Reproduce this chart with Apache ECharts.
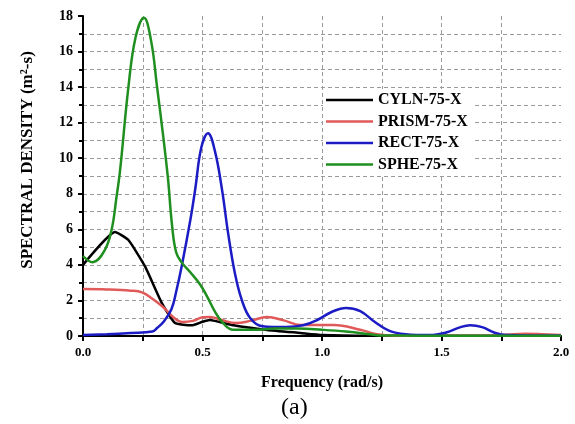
<!DOCTYPE html>
<html>
<head>
<meta charset="utf-8">
<script src="https://cdn.jsdelivr.net/npm/echarts@6/dist/echarts.min.js"></script>
<style>
  html, body { margin: 0; padding: 0; background: #fff; }
  #chart { width: 575px; height: 424px; }
</style>
</head>
<body>
<div id="chart"></div>
<script>
  // spectral density curves, [frequency, density]
  var seriesNames = ['CYLN-75-X', 'PRISM-75-X', 'RECT-75-X', 'SPHE-75-X'];
  var seriesColors = ['#000000', '#e05a5a', '#1c1cc4', '#1f8f1f'];

  var cyln = [[0,4.0],[0.134,5.85],[0.19,5.4],[0.26,3.9],[0.33,1.85],[0.385,0.73],[0.455,0.6],
    [0.5,0.8],[0.53,0.9],[0.63,0.6],[0.77,0.34],[0.91,0.17],[1.0,0.06],[1.2,0.02],[2.0,0.02]];

  var prism = [[0,2.64],[0.1,2.62],[0.2,2.55],[0.247,2.45],[0.29,2.1],[0.335,1.63],[0.377,1.07],
    [0.414,0.79],[0.46,0.85],[0.5,1.05],[0.53,1.07],[0.58,0.9],[0.64,0.73],[0.7,0.85],[0.77,1.07],
    [0.84,0.88],[0.91,0.62],[1.05,0.62],[1.16,0.35],[1.23,0.1],[1.3,0.02],[1.7,0.02],[1.78,0.08],
    [1.85,0.12],[1.92,0.1],[2.0,0.06]];

  var rect = [[0,0.05],[0.1,0.1],[0.2,0.17],[0.29,0.25],[0.31,0.45],[0.34,0.85],[0.37,1.5],[0.39,2.5],
    [0.414,4.0],[0.45,6.6],[0.47,8.3],[0.495,10.6],[0.523,11.4],[0.552,10.4],[0.582,8.2],[0.607,5.8],
    [0.636,3.5],[0.665,2.0],[0.7,1.0],[0.75,0.55],[0.85,0.5],[0.92,0.6],[0.98,0.9],[1.04,1.35],
    [1.1,1.58],[1.16,1.4],[1.22,0.8],[1.28,0.3],[1.35,0.1],[1.45,0.05],[1.52,0.2],[1.58,0.5],
    [1.62,0.6],[1.67,0.5],[1.72,0.2],[1.77,0.05],[2.0,0.02]];

  var sphe = [[0,4.5],[0.04,4.15],[0.09,4.8],[0.12,6.0],[0.14,7.8],[0.155,9.3],[0.19,14.0],
    [0.22,16.8],[0.255,17.9],[0.285,16.6],[0.31,14.0],[0.335,11.3],[0.356,8.8],[0.372,6.3],
    [0.39,4.7],[0.415,4.1],[0.448,3.6],[0.49,2.9],[0.52,2.2],[0.555,1.3],[0.586,0.73],[0.628,0.35],
    [0.72,0.35],[0.8,0.42],[0.9,0.42],[1.0,0.35],[1.1,0.25],[1.2,0.1],[1.24,0.03],[1.4,0.02],[2.0,0.02]];

  var seriesData = [cyln, prism, rect, sphe];

  var serif = 'Liberation Serif';
  var dash = { color: '#9a9a9a', type: [4, 3], width: 1 };

  var chart = echarts.init(document.getElementById('chart'));

  var option = {
    animation: false,
    backgroundColor: '#fff',
    grid: { left: 83, right: 14, top: 16, bottom: 88 },
    legend: {
      orient: 'vertical',
      left: 323,
      top: 89,
      icon: 'rect',
      itemWidth: 47,
      itemHeight: 2.5,
      itemGap: 3.5,
      padding: [2, 6, 2, 3],
      backgroundColor: '#fff',
      textStyle: { fontFamily: serif, fontWeight: 'bold', fontSize: 16, color: '#000', lineHeight: 18 },
      data: seriesNames
    },
    xAxis: {
      type: 'value',
      min: 0, max: 2, interval: 0.5,
      name: 'Frequency (rad/s)',
      nameLocation: 'middle',
      nameGap: 39,
      nameTextStyle: { fontFamily: serif, fontWeight: 'bold', fontSize: 16, color: '#000' },
      axisLine: { lineStyle: { color: '#000', width: 2 } },
      axisTick: { length: 5, lineStyle: { color: '#000', width: 2 } },
      minorTick: { show: true, splitNumber: 2, length: 5, lineStyle: { color: '#000', width: 2 } },
      axisLabel: {
        margin: 10, fontFamily: serif, fontWeight: 'bold', fontSize: 13, color: '#000',
        formatter: function (v) { return v.toFixed(1); }
      },
      splitLine: { show: true, showMaxLine: false, lineStyle: dash },
      minorSplitLine: { show: true, lineStyle: dash }
    },
    yAxis: {
      type: 'value',
      min: 0, max: 18, interval: 2,
      axisLine: { show: true, lineStyle: { color: '#000', width: 2 } },
      axisTick: { show: true, length: 5, lineStyle: { color: '#000', width: 2 } },
      minorTick: { show: true, splitNumber: 2, length: 4, lineStyle: { color: '#000', width: 2 } },
      axisLabel: { margin: 10, fontFamily: serif, fontWeight: 'bold', fontSize: 14, color: '#000' },
      splitLine: { show: true, showMaxLine: false, lineStyle: dash },
      minorSplitLine: { show: true, lineStyle: dash }
    },
    graphic: [{
      // y axis title, sits a bit above the axis middle in the reference
      type: 'text',
      x: 28, y: 160,
      rotation: Math.PI / 2,
      style: {
        text: 'SPECTRAL DENSITY (m\u00b2-s)',
        font: 'bold 17px "Liberation Serif"',
        fill: '#000',
        align: 'center',
        verticalAlign: 'middle'
      }
    }, {
      type: 'text',
      left: 281,
      top: 396,
      style: { text: '(a)', font: '24px "Liberation Serif"', fill: '#000' }
    }],
    series: seriesNames.map(function (name, i) {
      return {
        name: name,
        type: 'line',
        data: seriesData[i],
        symbol: 'none',
        smooth: i === 0 ? 0.15 : 0.4,
        lineStyle: { color: seriesColors[i], width: 2.5 },
        itemStyle: { color: seriesColors[i] }
      };
    })
  };

  chart.setOption(option);
</script>
</body>
</html>
